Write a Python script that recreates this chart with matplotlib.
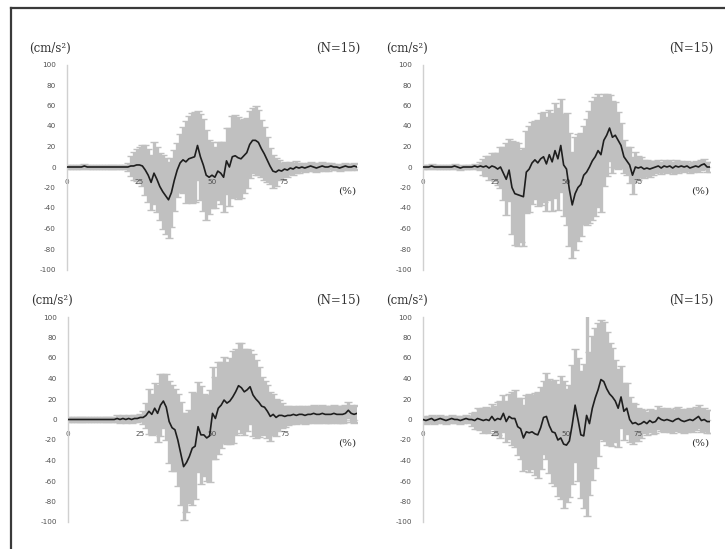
import matplotlib
matplotlib.use("Agg")
import matplotlib.pyplot as plt
from matplotlib.lines import Line2D

# Gait cycle percentage (x axis)
pct = list(range(101))

# Panel A: mean and SD of acceleration (cm/s^2)
mean_a = [0, 0, 0, 0, 0, 0, 1, 0, 0, 0, 0, 0, 0, 0, 0, 0, 0, 0, 0, 0, 0,
          0, 1, 1, 2, 2, 1, -3, -8, -15, -6,
          -12, -19, -24, -28, -32, -25, -13, -3, 4, 7,
          5, 8, 9, 10, 21, 10, 2, -8, -10, -8,
          -10, -4, -6, -10, 6, 0, 10, 11, 9, 8,
          11, 14, 22, 26, 26, 24, 18, 13, 7, 1,
          -4, -5, -3, -4, -2, -3, -1, -2, 0, -1,
          0, -1, 0, 1, 0, -1, 0, 1, 0, 0,
          1, 0, 0, -1, 0, 1, 0, 0, 1, 0]
sd_a = [2, 2, 2, 2, 2, 2, 2, 2, 2, 2, 2, 2, 2, 2, 2, 2, 2, 2, 2, 2, 2,
        4, 10, 14, 16, 18, 20, 24, 26, 27, 30,
        32, 33, 36, 37, 37, 34, 30, 26, 28, 32,
        40, 42, 44, 44, 34, 42, 45, 44, 36, 32,
        30, 28, 30, 34, 32, 38, 40, 40, 40, 38,
        36, 34, 33, 32, 34, 32, 28, 26, 22, 18,
        16, 14, 10, 8, 7, 7, 6, 6, 6, 5,
        4, 4, 4, 4, 4, 4, 4, 4, 4, 4,
        3, 3, 3, 3, 3, 3, 3, 3, 3, 3]

# Panel B
mean_b = [0, 0, 0, 1, 0, 0, 0, 0, 0, 0, 0, 1, 0, -1, 0, 0, 0, 0, 1, 0,
          1, 0, 1, -1, 1, 0, -2, 0, -6, -12,
          -3, -20, -26, -27, -28, -29, -5, -2, 4, 7,
          4, 8, 10, 3, 12, 5, 16, 8, 21, 2,
          -2, -22, -37, -26, -20, -17, -8, -5, 0, 6,
          10, 16, 12, 26, 31, 38, 29, 31, 26, 21,
          10, 6, 2, -8, 0, -1, 0, -2, -1, -2,
          -1, 0, 1, -1, 1, 0, 1, -1, 1, 0,
          1, 0, 1, -1, 0, 1, 0, 2, 3, 0, 0]
sd_b = [2, 2, 2, 2, 2, 2, 2, 2, 2, 2, 2, 2, 2, 2, 2, 2, 2, 2, 2, 2,
        4, 8, 10, 12, 13, 14, 16, 20, 26, 35,
        30, 45, 50, 50, 45, 48, 40, 42, 40, 38,
        42, 45, 44, 46, 44, 48, 46, 50, 45, 50,
        55, 55, 52, 55, 52, 50, 48, 52, 55, 58,
        58, 55, 56, 45, 40, 32, 35, 32, 28, 22,
        16, 14, 18, 18, 15, 12, 10, 9, 8, 8,
        7, 6, 6, 6, 6, 6, 6, 6, 6, 6,
        5, 5, 5, 5, 5, 5, 5, 5, 5, 5, 5]

# Panel C
mean_c = [0, 0, 0, 0, 0, 0, 0, 0, 0, 0, 0, 0, 0, 0, 0, 0, 0,
          1, 0, 1, 0, 1, 0, 1, 1, 2, 2,
          4, 8, 5, 11, 6, 14, 18, 12, -2, -8,
          -10, -20, -33, -46, -42, -36, -28, -26, -7, -15,
          -15, -18, -16, 6, 1, 11, 14, 19, 16, 18,
          22, 27, 33, 31, 27, 29, 32, 24, 20, 17,
          13, 12, 8, 3, 5, 2, 4, 4, 3, 4,
          4, 5, 4, 5, 5, 4, 5, 5, 6, 5,
          5, 6, 5, 5, 5, 6, 5, 5, 5, 6, 9, 6, 5, 6]
sd_c = [2, 2, 2, 2, 2, 2, 2, 2, 2, 2, 2, 2, 2, 2, 2, 2, 2,
        3, 3, 3, 3, 3, 3, 3, 3, 3, 6,
        12, 22, 20, 25, 28, 30, 26, 32, 40, 42,
        40, 45, 50, 52, 48, 45, 55, 52, 44, 48,
        40, 42, 45, 45, 40, 45, 42, 42, 40, 42,
        45, 42, 42, 44, 42, 40, 36, 40, 38, 34,
        28, 26, 26, 24, 20, 18, 15, 12, 10, 9,
        8, 8, 8, 8, 8, 8, 8, 8, 8, 8,
        8, 8, 8, 8, 8, 8, 8, 8, 8, 8, 8, 8, 8, 8]

# Panel D
mean_d = [0, -1, 0, 1, -1, 0, 1, 0, -1, 0, 1, 0, 0, -1, 0, 1, 0,
          0, -1, 1, 0, -1, 0, -1, 3, -1, 1,
          0, 6, -2, 3, 1, 1, -7, -9, -18, -12,
          -13, -12, -14, -15, -8, 2, 3, -6, -12, -13,
          -20, -18, -24, -25, -21, -5, 14, 0, -15, -16,
          4, -4, 11, 21, 29, 39, 37, 30, 25, 22,
          18, 11, 22, 8, 11, 0, -4, -3, -5, -4,
          -2, -4, -1, -3, -2, 2, 0, -1, 0, -1,
          -2, 0, 1, -1, -2, -1, 0, -1, 1, 3, -1, 0, -2, -2]
sd_d = [3, 3, 3, 3, 3, 3, 3, 3, 3, 3, 3, 3, 3, 3, 3, 3, 3,
        6, 8, 10, 10, 12, 12, 12, 12, 14, 16,
        18, 18, 20, 22, 26, 28, 28, 30, 32, 36,
        38, 36, 40, 42, 40, 36, 42, 46, 50, 52,
        55, 60, 62, 55, 55, 58, 55, 60, 62, 70,
        98, 70, 70, 68, 65, 58, 58, 55, 50, 48,
        40, 38, 30, 28, 25, 22, 20, 18, 16, 14,
        11, 11, 11, 11, 11, 11, 11, 11, 11, 11,
        11, 11, 11, 11, 11, 11, 11, 11, 11, 11, 11, 11, 11, 11]

y_ticks = [-100, -80, -60, -40, -20, 0, 20, 40, 60, 80, 100]
x_ticks = [0, 25, 50, 75]
x_tick_labels = ["0", "25", "50", "75"]
unit_label = "(cm/s²)"
n_label = "(N=15)"
pct_label = "(%)"

W, H = 725, 549
fig = plt.figure(figsize=(W / 100, H / 100), dpi=100)
fig.patch.set_facecolor("white")


def rect(x0, x1, ytop, ybot):
    return [x0 / W, 1 - ybot / H, (x1 - x0) / W, (ybot - ytop) / H]


panels = [
    (rect(67, 357, 64.5, 269.5), mean_a, sd_a),
    (rect(423, 710, 64.5, 269.5), mean_b, sd_b),
    (rect(68, 357, 317, 522), mean_c, sd_c),
    (rect(423, 710, 317, 522), mean_d, sd_d),
]

text_col = "#333333"
tick_col = "#505050"
serif = "DejaVu Serif"

for pos, mean, sd in panels:
    ax = fig.add_axes(pos)
    ax.set_facecolor("none")
    ax.errorbar(pct, mean, yerr=sd, fmt="none", ecolor="#c0c0c0",
                elinewidth=2.4, capsize=3.0, capthick=1.0, zorder=1)
    ax.plot(pct, mean, color="#1e1e1e", lw=1.2, zorder=3)
    ax.set_xlim(0, 100)
    ax.set_ylim(-100, 100)
    for s in ("top", "right"):
        ax.spines[s].set_visible(False)
    ax.spines["left"].set_color("#d0d0d0")
    ax.spines["left"].set_linewidth(1.0)
    ax.spines["bottom"].set_position(("data", 0))
    ax.spines["bottom"].set_color("#d0d0d0")
    ax.spines["bottom"].set_linewidth(1.0)
    ax.spines["bottom"].set_zorder(0.5)
    ax.set_yticks(y_ticks)
    ax.set_yticklabels([str(v) for v in y_ticks])
    ax.set_xticks(x_ticks)
    ax.set_xticklabels(x_tick_labels)
    ax.tick_params(axis="y", length=0, labelsize=5.2, labelcolor=tick_col, pad=8)
    ax.tick_params(axis="x", length=0, labelsize=5.2, labelcolor=tick_col, pad=8.5)
    ax.text(-0.057, 1.08, unit_label, transform=ax.transAxes, ha="center",
            va="center", fontsize=8.5, family=serif, color=text_col)
    ax.text(0.935, 1.08, n_label, transform=ax.transAxes, ha="center",
            va="center", fontsize=8.5, family=serif, color=text_col)
    ax.text(96.5, -23, pct_label, ha="center", va="center", fontsize=7.5,
            family=serif, color=text_col)

# Outer frame (left and top edges)
fig.add_artist(Line2D([10.5 / W, 10.5 / W], [1 - 7.5 / H, 0],
                      transform=fig.transFigure, color="#3a3a3a", lw=1.6))
fig.add_artist(Line2D([10.5 / W, 1], [1 - 7.5 / H, 1 - 7.5 / H],
                      transform=fig.transFigure, color="#3a3a3a", lw=1.6))

fig.savefig("out.png", dpi=100, facecolor="white")
